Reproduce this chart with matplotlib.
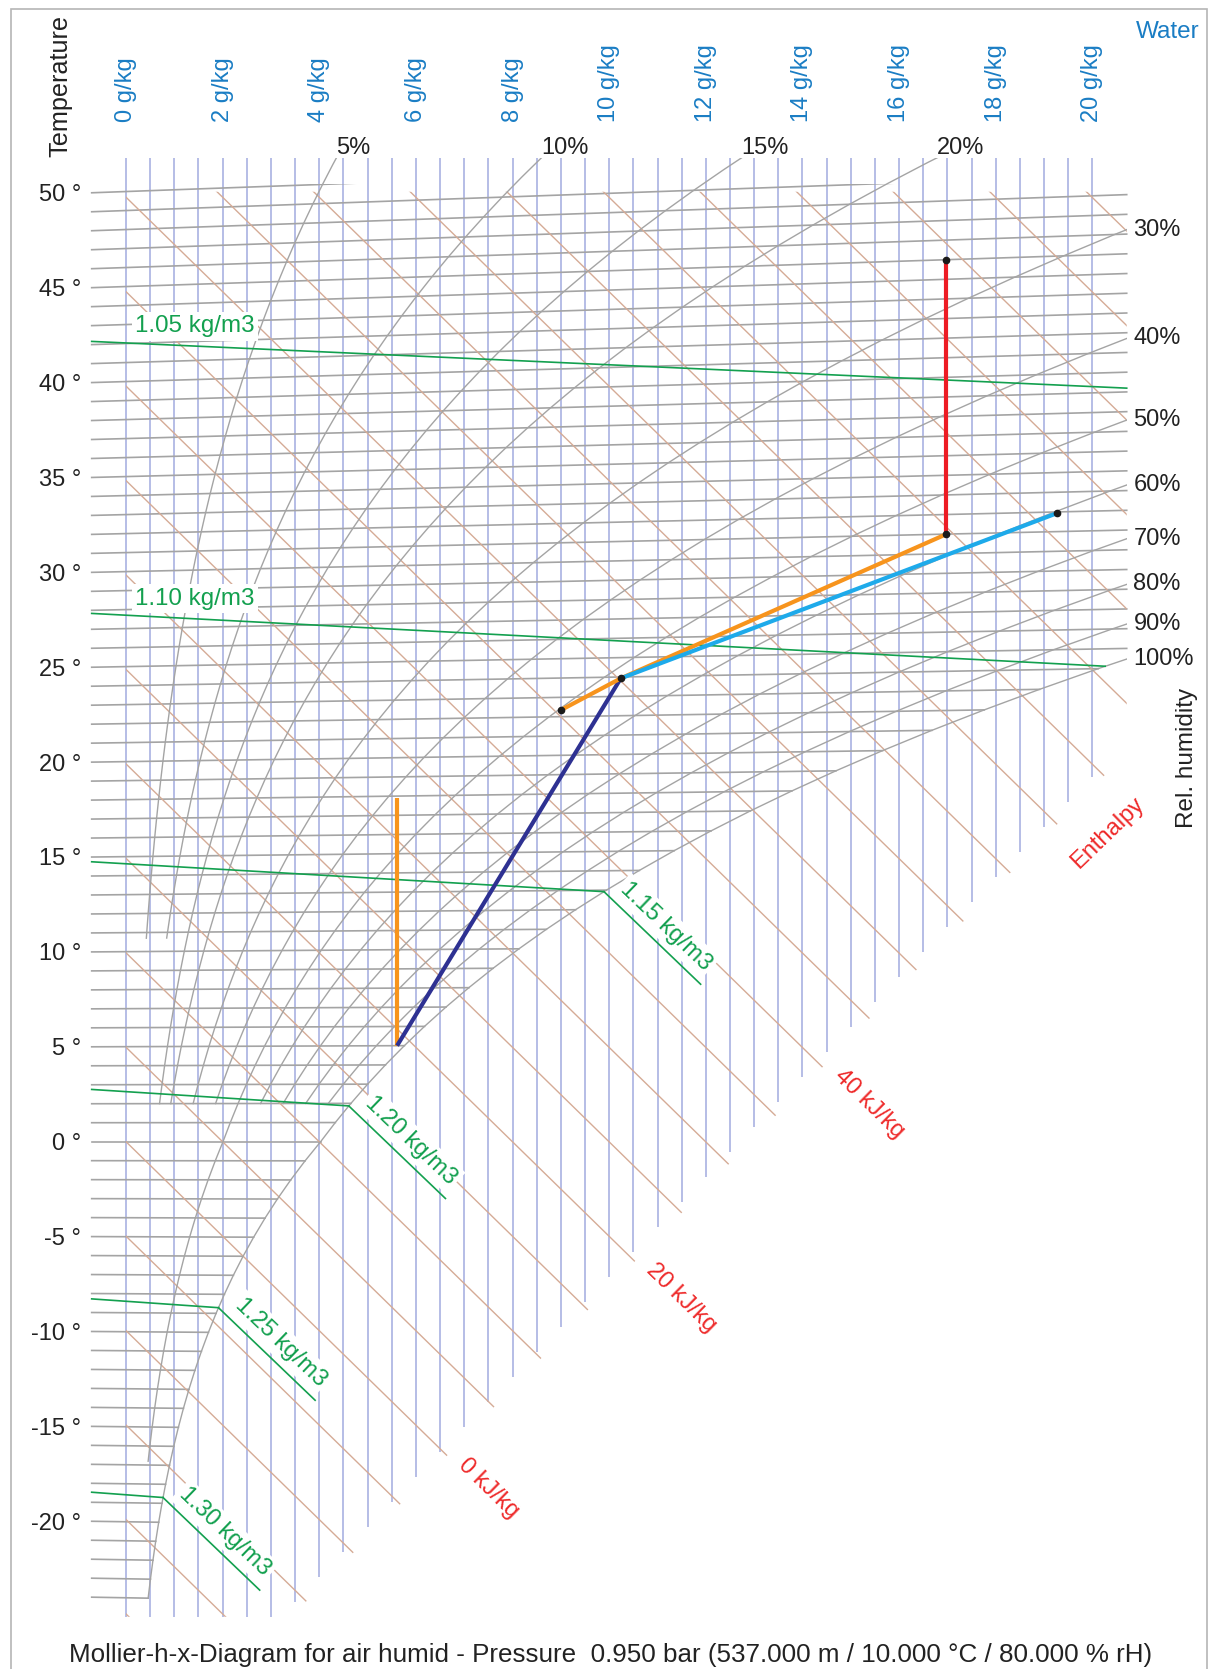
import numpy as np
import matplotlib
matplotlib.use("Agg")
import matplotlib.pyplot as plt
from matplotlib.patches import Rectangle, Polygon

plt.rcParams["font.family"] = ["Liberation Sans", "DejaVu Sans"]

# ---- values ----
pressure = 950.0                                   # hPa (0.950 bar)
water_ticks = [0, 2, 4, 6, 8, 10, 12, 14, 16, 18, 20]          # g/kg
water_grid = [i / 2 for i in range(0, 41)]                    # every 0.5 g/kg
isotherms = list(range(-24, 51))                               # °C
temp_ticks = [50, 45, 40, 35, 30, 25, 20, 15, 10, 5, 0, -5, -10, -15, -20]
rh_levels = [5, 10, 15, 20, 30, 40, 50, 60, 70, 80, 90, 100]   # %
rh_from = [10.7, 10.7, 2, 2, 2, 2, -16.8, 2, 2, 2, 2, -24]      # lowest °C drawn
enthalpies = list(range(-25, 101, 5))                          # kJ/kg
enthalpy_ticks = [0, 20, 40]
densities = [1.05, 1.10, 1.15, 1.20, 1.25, 1.30]               # kg/m3

# process path, (water content g/kg, temperature °C)
rise_x, rise_t = [5.61, 5.61], [5.0, 17.9]
navy_x, navy_t = [5.61, 10.24], [5.0, 23.93]
orange_x, orange_t = [9.0, 10.24, 16.98], [22.34, 23.93, 31.0]
red_x, red_t = [16.98, 16.98], [31.0, 45.0]
cyan_x, cyan_t = [10.24, 19.26], [23.93, 31.93]
dot_x = [9.0, 10.24, 16.98, 16.98, 19.26]
dot_t = [22.34, 23.93, 31.0, 45.0, 31.93]

# chart borders in (g/kg, h - r0*x)
x_left, x_right = -0.71, 20.71
iso_top, grid_top, h_top = 50.72, 52.08, 50.29
floor = -25.15
grid_edge = (-33.61, 2.647)
h_edge = (-34.21, 2.647)
fog_step = (2.0, -4.9)

GRID = "#b5bde6"
GREY = "#a4a4a4"
BROWN = "#d5ab96"
GREEN = "#13a04f"
BLUE = "#1a7dc4"
RED = "#ee2a2a"
INK = "#222222"
FS = 17


def ordinate(x, t):
    return 1.006 * np.asarray(t) + 1.86 * np.asarray(t) * np.asarray(x) / 1000.0


def p_sat(t):
    t = np.asarray(t, dtype=float)
    water = 6.112 * np.exp(17.62 * t / (243.12 + t))
    ice = 6.112 * np.exp(22.46 * t / (272.62 + t))
    return np.where(t >= 0, water, ice)


def x_at(t, phi=1.0):
    pv = phi * p_sat(t)
    return 622.0 * pv / (pressure - pv)


def t_density(x, rho):
    xk = np.asarray(x) / 1000.0
    return pressure * 100 * (1 + xk) / (rho * 287.06 * (1 + 1.608 * xk)) - 273.15


def kink(rho):
    lo, hi = 0.0, 60.0
    for _ in range(60):
        mid = (lo + hi) / 2
        if x_at(t_density(mid, rho)) > mid:
            lo = mid
        else:
            hi = mid
    return lo


fig = plt.figure(figsize=(12.09, 16.69), dpi=100)
ax = fig.add_axes([0, 0, 1, 1])
px_x, px_y = 48.32, 18.89
ax.set_xlim(-126 / px_x, (1209 - 126) / px_x)
ax.set_ylim(-(1669 - 1141.7) / px_y, 1141.7 / px_y)
ax.axis("off")


def screen_angle(dx, dy):
    p0 = ax.transData.transform((0, 0))
    p1 = ax.transData.transform((dx, dy))
    return np.degrees(np.arctan2(p1[1] - p0[1], p1[0] - p0[0]))


def offset_pts(ang, along, perp):
    a = np.radians(ang)
    d = np.array([np.cos(a), np.sin(a)])
    n = np.array([-np.sin(a), np.cos(a)])
    return tuple((along * d + perp * n) * 0.72)


# water content grid
wx = np.array(water_grid)
ax.vlines(wx, np.maximum(floor, grid_edge[0] + grid_edge[1] * wx), grid_top,
          color=GRID, lw=1.4, zorder=1)

# isotherms
iso_clip = Rectangle((x_left - 1, floor - 5), x_right - x_left + 2, iso_top - floor + 5,
                     transform=ax.transData)
for t in isotherms:
    xs = np.array([x_left, min(x_right, float(x_at(t)))])
    ln, = ax.plot(xs, ordinate(xs, t), color=GREY, lw=1.2, zorder=2)
    ln.set_clip_path(iso_clip)

# enthalpy lines
xc = (floor - h_edge[0]) / h_edge[1]
h_clip = Polygon([(0, h_top), (x_right, h_top), (x_right, h_edge[0] + h_edge[1] * x_right),
                  (xc, floor), (0, floor)], closed=True, transform=ax.transData)
for h in enthalpies:
    xs = np.array([0.0, 30.0])
    ln, = ax.plot(xs, h - 2.501 * xs, color=BROWN, lw=1.0, zorder=2)
    ln.set_clip_path(h_clip)

h_ang = screen_angle(1, -2.501)
for h in enthalpy_ticks:
    xe = (h - h_edge[0]) / (2.501 + h_edge[1])
    ye = h - 2.501 * xe
    if ye < floor:
        xe, ye = (h - floor) / 2.501, floor
    ax.annotate(f"{h} kJ/kg", (xe, ye), xytext=offset_pts(h_ang, 15, 6),
                textcoords="offset points", rotation=h_ang, rotation_mode="anchor",
                ha="left", va="center", color=RED, fontsize=FS, zorder=5)

# relative humidity curves
rh_clip = Rectangle((x_left - 1, floor - 5), x_right - x_left + 1, grid_top - floor + 5,
                    transform=ax.transData)
for phi, t0 in zip(rh_levels, rh_from):
    ts = np.concatenate([[t0], np.arange(np.floor(t0) + 1, 61)])
    xs = x_at(ts, phi / 100.0)
    ys = ordinate(xs, ts)
    ln, = ax.plot(xs, ys, color=GREY, lw=1.0, zorder=2)
    ln.set_clip_path(rh_clip)
    for i in range(len(xs) - 1):
        if xs[i + 1] > x_right or ys[i + 1] > grid_top:
            fx = (x_right - xs[i]) / (xs[i + 1] - xs[i]) if xs[i + 1] > x_right else 2
            fy = (grid_top - ys[i]) / (ys[i + 1] - ys[i]) if ys[i + 1] > grid_top else 2
            f = min(fx, fy)
            xe = xs[i] + f * (xs[i + 1] - xs[i])
            ye = ys[i] + f * (ys[i + 1] - ys[i])
            if fy < fx:
                ax.text(xe, 52.31, f"{phi}%", ha="left", va="baseline",
                        fontsize=FS, color=INK)
            else:
                ax.text(x_right + 0.14, ye, f"{phi}%", ha="left", va="center",
                        fontsize=FS, color=INK)
            break

# density lines
fog_ang = screen_angle(*fog_step)
box = dict(boxstyle="square,pad=0.15", fc="white", ec="none")
for rho in densities:
    xk = kink(rho)
    xe = min(xk, x_right)
    xs = np.array([x_left, xe])
    ax.plot(xs, ordinate(xs, t_density(xs, rho)), color=GREEN, lw=1.2, zorder=3)
    label = f"{rho:.2f} kg/m3"
    if xk + fog_step[0] <= x_right:
        yk = float(ordinate(xk, t_density(xk, rho)))
        ax.plot([xk, xk + fog_step[0]], [yk, yk + fog_step[1]], color=GREEN, lw=1.2, zorder=3)
        ax.annotate(label, (xk, yk), xytext=offset_pts(fog_ang, 10, 12),
                    textcoords="offset points", rotation=fog_ang, rotation_mode="anchor",
                    ha="left", va="baseline", color=GREEN, fontsize=FS, bbox=box, zorder=5)
    else:
        x0 = 0.19
        y0 = float(ordinate(x0, t_density(x0, rho)))
        ax.annotate(label, (x0, y0), xytext=(0, 11 * 0.72), textcoords="offset points",
                    ha="left", va="baseline", color=GREEN, fontsize=FS + 0.4, bbox=box, zorder=5)

# process
def path(xs, ts, color):
    xs = np.asarray(xs)
    ax.plot(xs, ordinate(xs, ts), color=color, lw=3.0, solid_capstyle="butt", zorder=6)

path(rise_x, rise_t, "#f7941d")
path(navy_x, navy_t, "#2e3192")
path(orange_x, orange_t, "#f7941d")
path(red_x, red_t, "#ed1c24")
path(cyan_x, cyan_t, "#1eaaea")
ax.plot(dot_x, ordinate(dot_x, dot_t), "o", ms=4.5, color="#1a1a1a", zorder=7)

# axis labels
for t in temp_ticks:
    ax.text(-0.93, float(ordinate(x_left, t)) - 0.445, f"{t} °", ha="right", va="baseline",
            fontsize=FS, color=INK)
for w in water_ticks:
    ax.text(w, 53.98, f"{w} g/kg", rotation=90, ha="center", va="bottom",
            fontsize=FS, color=BLUE)


def fxy(px, py):
    return px / 1209, 1 - py / 1669


fig.text(*fxy(60, 86), "Temperature", rotation=90, ha="center", va="center",
         fontsize=18.2, color=INK)
fig.text(*fxy(1200, 38.3), "Water", ha="right", va="baseline", fontsize=17.5, color=BLUE)
fig.text(*fxy(1187.5, 757.5), "Rel. humidity", rotation=90, ha="center", va="center",
         fontsize=17.5, color=INK)
fig.text(*fxy(1108, 833), "Enthalpy", rotation=44, ha="center", va="center",
         fontsize=FS, color=RED)
fig.text(*fxy(69, 1661.5),
         "Mollier-h-x-Diagram for air humid - Pressure  0.950 bar (537.000 m / 10.000 °C / 80.000 % rH)",
         ha="left", va="baseline", fontsize=18.7, color=INK)

fig.patches.append(Rectangle(fxy(11, 1700), (1206.7 - 11) / 1209, (1700 - 9.3) / 1669,
                             transform=fig.transFigure, fill=False, ec="#b5b5b5", lw=1.2))

fig.savefig("out.png", dpi=100)
